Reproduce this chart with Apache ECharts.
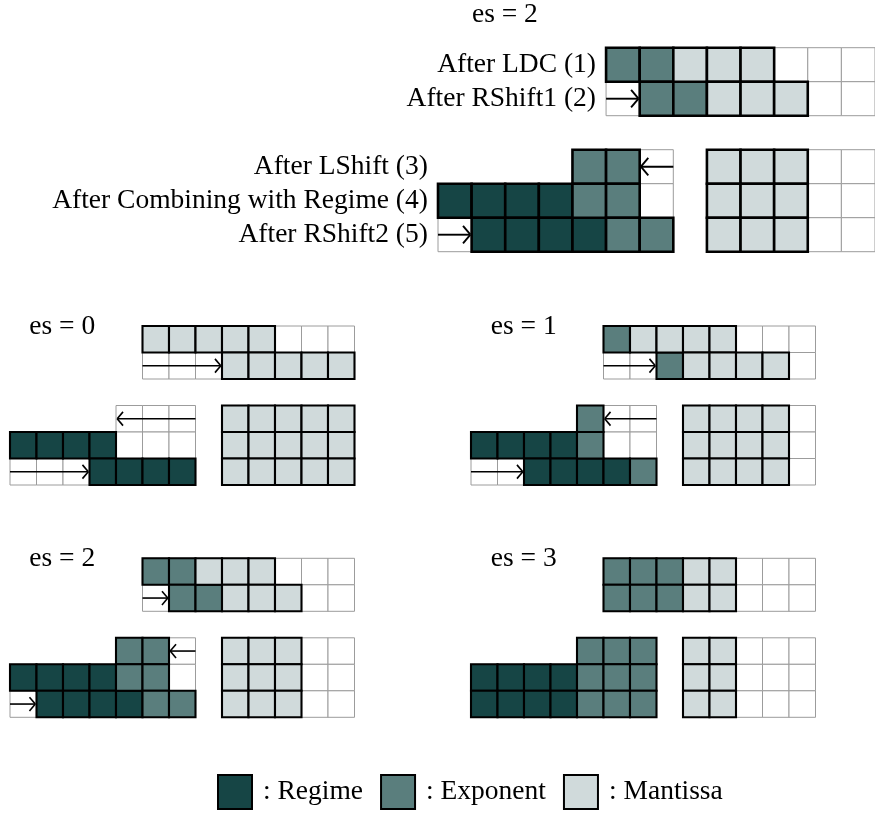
<!DOCTYPE html>
<html><head><meta charset="utf-8">
<script src="https://cdn.jsdelivr.net/npm/echarts@6/dist/echarts.min.js"></script>
<style>html,body{margin:0;padding:0;background:#fff}#c{width:875px;height:813px}</style>
</head><body><div id="c"></div>
<script>
// ---- data ----
const categories = ['Regime', 'Exponent', 'Mantissa'];
const cellKeys = ['R', 'E', 'M'];
const panelTitles = ['es = 2', 'es = 0', 'es = 1', 'es = 2', 'es = 3'];
const rowLabels = ['After LDC (1)', 'After RShift1 (2)', '', 'After LShift (3)', 'After Combining with Regime (4)', 'After RShift2 (5)'];
const rowLabelCols = [5, 5, null, 0, 0, 0];
// rows: R regime, E exponent, M mantissa, '.' empty cell, ' ' no cell
const rowsMain = ["     EEMMM...", "     .EEMMM..", "             ", "    EE. MMM..", "RRRREE. MMM..", ".RRRREE MMM.."];
const rowsEs0  = ["     MMMMM...", "     ...MMMMM", "             ", "    ... MMMMM", "RRRR... MMMMM", "...RRRR MMMMM"];
const rowsEs1  = ["     EMMMM...", "     ..EMMMM.", "             ", "    E.. MMMM.", "RRRRE.. MMMM.", "..RRRRE MMMM."];
const rowsEs2  = ["     EEMMM...", "     .EEMMM..", "             ", "    EE. MMM..", "RRRREE. MMM..", ".RRRREE MMM.."];
const rowsEs3  = ["     EEEMM...", "     EEEMM...", "             ", "    EEE MM...", "RRRREEE MM...", "RRRREEE MM..."];
// arrows: [row, fromCol, toCol]
const arrowsMain = [[1, 5, 6], [3, 7, 6], [5, 0, 1]];
const arrowsEs0  = [[1, 5, 8], [3, 7, 4], [5, 0, 3]];
const arrowsEs1  = [[1, 5, 7], [3, 7, 5], [5, 0, 2]];
const arrowsEs2  = [[1, 5, 6], [3, 7, 6], [5, 0, 1]];
const arrowsEs3  = [];

// ---- style / layout ----
const colors = { R: '#164545', E: '#5a7e7d', M: '#d0dadb' };
const FONT = '"Liberation Serif", "Times New Roman", serif';
const FS = 27.5;
const layout = [
  { left: 438, top: 47.7, cell: 34, titleAt: [1.99, -0.96], thick: 2.6, arrowW: 1.9, rows: rowsMain, arrows: arrowsMain, labels: true },
  { left: 10, top: 326, cell: 26.5, titleAt: [1.97, 0.04], thick: 2.1, arrowW: 1.6, rows: rowsEs0, arrows: arrowsEs0 },
  { left: 471, top: 326, cell: 26.5, titleAt: [1.99, 0.04], thick: 2.1, arrowW: 1.6, rows: rowsEs1, arrows: arrowsEs1 },
  { left: 10, top: 558.3, cell: 26.5, titleAt: [1.97, 0.0], thick: 2.1, arrowW: 1.6, rows: rowsEs2, arrows: arrowsEs2 },
  { left: 471, top: 558.3, cell: 26.5, titleAt: [1.99, 0.0], thick: 2.1, arrowW: 1.6, rows: rowsEs3, arrows: arrowsEs3 }
];

const grids = [], xAxes = [], yAxes = [], series = [];
layout.forEach((L, i) => {
  grids.push({ left: L.left, top: L.top, width: 13 * L.cell, height: 6 * L.cell });
  xAxes.push({ type: 'value', gridIndex: i, min: 0, max: 13, show: false });
  yAxes.push({ type: 'value', gridIndex: i, min: 0, max: 6, inverse: true, show: false });

  const bg = [], byType = { R: [], E: [], M: [] };
  L.rows.forEach((row, r) => {
    for (let c = 0; c < row.length; c++) {
      const ch = row[c];
      if (ch === ' ') continue;
      bg.push([c, r]);
      if (byType[ch]) byType[ch].push([c, r]);
    }
  });

  const cellRect = (fill, stroke, lw) => (params, api) => {
    const p = api.coord([api.value(0), api.value(1)]);
    const s = api.size([1, 1]);
    return { type: 'rect', shape: { x: p[0], y: p[1], width: s[0], height: s[1] },
      style: { fill: fill, stroke: stroke, lineWidth: lw } };
  };

  series.push({ type: 'custom', name: 'cells' + i, xAxisIndex: i, yAxisIndex: i, z: 2, silent: true,
    data: bg, renderItem: cellRect('#ffffff', '#9c9c9c', 1) });

  cellKeys.forEach((k, j) => {
    series.push({ type: 'custom', name: categories[j], xAxisIndex: i, yAxisIndex: i, z: 3, silent: true,
      itemStyle: { color: colors[k], borderColor: '#000', borderWidth: 2 },
      data: byType[k], renderItem: cellRect(colors[k], '#000', L.thick) });
  });

  series.push({ type: 'custom', name: 'arrows' + i, xAxisIndex: i, yAxisIndex: i, z: 4, silent: true,
    data: L.arrows,
    renderItem: (params, api) => {
      const r = api.value(0), a = api.value(1), b = api.value(2);
      const p0 = api.coord([a, r + 0.5]), p1 = api.coord([b, r + 0.5]);
      const s = api.size([1, 1])[0];
      const d = p1[0] > p0[0] ? 1 : -1;
      const tip = p1[0] - d * 1.2, y = p0[1];
      const hx = 0.22 * s, hy = 0.26 * s;
      const st = { stroke: '#000', fill: null, lineWidth: L.arrowW };
      return { type: 'group', children: [
        { type: 'line', shape: { x1: p0[0], y1: y, x2: tip - d * 0.6, y2: y }, style: st },
        { type: 'bezierCurve', shape: { x1: tip - d * hx, y1: y - hy, cpx1: tip - d * hx * 0.15, cpy1: y - hy * 0.15, x2: tip, y2: y }, style: st },
        { type: 'bezierCurve', shape: { x1: tip - d * hx, y1: y + hy, cpx1: tip - d * hx * 0.15, cpy1: y + hy * 0.15, x2: tip, y2: y }, style: st }
      ] };
    } });

  series.push({ type: 'custom', name: 'title' + i, xAxisIndex: i, yAxisIndex: i, z: 5, silent: true,
    data: [[L.titleAt[0], L.titleAt[1], i]],
    renderItem: (params, api) => {
      const p = api.coord([api.value(0), api.value(1)]);
      return { type: 'text', x: p[0], y: p[1],
        style: { text: panelTitles[api.value(2)], fill: '#000', fontFamily: FONT, fontSize: FS, align: 'center', verticalAlign: 'middle' } };
    } });

  if (L.labels) {
    const ld = [];
    rowLabels.forEach((t, r) => { if (t) ld.push([rowLabelCols[r], r, r]); });
    series.push({ type: 'custom', name: 'labels' + i, xAxisIndex: i, yAxisIndex: i, z: 5, silent: true,
      data: ld,
      renderItem: (params, api) => {
        const p = api.coord([api.value(0) - 0.3, api.value(1) + 0.5]);
        return { type: 'text', x: p[0], y: p[1],
          style: { text: rowLabels[api.value(2)], fill: '#000', fontFamily: FONT, fontSize: FS, align: 'right', verticalAlign: 'middle' } };
      } });
  }
});

const chart = echarts.init(document.getElementById('c'), null, { renderer: 'canvas' });
chart.setOption({
  animation: false,
  backgroundColor: '#fff',
  grid: grids, xAxis: xAxes, yAxis: yAxes,
  legend: {
    data: categories, left: 217, top: 774, padding: 0, icon: 'rect', itemWidth: 34, itemHeight: 34, itemGap: 17,
    selectedMode: false, formatter: n => ': ' + n,
    itemStyle: { borderColor: '#000', borderWidth: 2 },
    textStyle: { fontFamily: FONT, fontSize: FS, color: '#000', padding: [0, 0, 0, 6] }
  },
  series: series
});
</script>
</body></html>
